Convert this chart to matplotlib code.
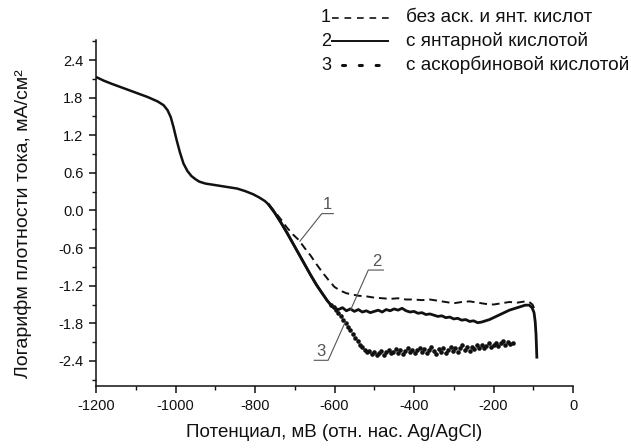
"""Polarisation curves: log current density vs potential (three electrolytes)."""
import matplotlib
matplotlib.use("Agg")
import matplotlib.pyplot as plt
from matplotlib.lines import Line2D
from matplotlib.ticker import MultipleLocator, FormatStrFormatter

plt.rcParams["font.family"] = ["Liberation Sans", "DejaVu Sans"]
plt.rcParams["axes.unicode_minus"] = False

# shared part of all three curves (mV, log mA/cm2)
common_x = [-1200, -1180, -1160, -1130, -1100, -1070, -1045, -1030, -1020, -1012,
            -1005, -997, -989, -980, -970, -960, -950, -940, -925, -905, -885,
            -865, -845, -825, -805, -790, -775, -765]
common_y = [2.13, 2.07, 2.02, 1.95, 1.88, 1.81, 1.74, 1.68, 1.60, 1.49,
            1.33, 1.12, 0.93, 0.75, 0.63, 0.55, 0.50, 0.46, 0.43, 0.41, 0.39,
            0.37, 0.35, 0.31, 0.26, 0.21, 0.15, 0.09]

# 1: without ascorbic / succinic acid (dashed)
tail1_x = [-750, -735, -720, -705, -690, -675, -660, -645, -630, -615, -600, -585,
           -570, -555, -540, -520, -500, -480, -460, -440, -420, -400, -380, -360,
           -340, -320, -300, -280, -260, -240, -220, -200, -180, -160, -140, -120,
           -110, -102, -96]
tail1_y = [-0.02, -0.14, -0.27, -0.38, -0.47, -0.60, -0.72, -0.86, -0.99, -1.11,
           -1.22, -1.28, -1.32, -1.34, -1.36, -1.37, -1.39, -1.40, -1.41, -1.40,
           -1.42, -1.42, -1.43, -1.42, -1.44, -1.46, -1.48, -1.46, -1.45, -1.47,
           -1.49, -1.50, -1.48, -1.46, -1.47, -1.45, -1.46, -1.50, -1.58]

# 2: with succinic acid (solid)
tail2_x = [-750, -735, -720, -705, -690, -675, -660, -645, -630, -618, -608, -600,
           -590, -580, -570, -560, -550, -540, -530, -520, -510, -500, -490, -480,
           -470, -460, -450, -440, -430, -420, -410, -400, -390, -380, -370, -360,
           -350, -340, -330, -320, -310, -300, -290, -280, -270, -260, -250, -240,
           -230, -220, -210, -200, -190, -180, -170, -160, -150, -140, -130, -120,
           -110, -103, -98, -95, -93, -92, -91]
tail2_y = [-0.04, -0.19, -0.35, -0.52, -0.69, -0.86, -1.03, -1.19, -1.33, -1.44,
           -1.52, -1.56, -1.58, -1.55, -1.60, -1.57, -1.61, -1.58, -1.62, -1.60,
           -1.63, -1.61, -1.59, -1.62, -1.58, -1.60, -1.57, -1.59, -1.56, -1.60,
           -1.62, -1.61, -1.64, -1.63, -1.66, -1.65, -1.67, -1.69, -1.68, -1.71,
           -1.70, -1.73, -1.72, -1.75, -1.74, -1.77, -1.76, -1.79, -1.78, -1.76,
           -1.74, -1.71, -1.68, -1.65, -1.62, -1.59, -1.57, -1.55, -1.53, -1.51,
           -1.51, -1.55, -1.63, -1.78, -1.98, -2.15, -2.34]

# 3: with ascorbic acid (dotted, scattered)
tail3_x = [-750, -735, -720, -705, -690, -675, -660, -645, -630, -618, -608,
           -602, -596, -590, -584, -578, -572, -566, -560, -554, -548, -542, -536,
           -530, -524, -518, -512, -506, -500, -494, -488, -482, -476, -470, -464,
           -458, -452, -446, -440, -434, -428, -422, -416, -410, -404, -398, -392,
           -386, -380, -374, -368, -362, -356, -350, -344, -338, -332, -326, -320,
           -314, -308, -302, -296, -290, -284, -278, -272, -266, -260, -254, -248,
           -242, -236, -230, -224, -218, -212, -206, -200, -194, -188, -182, -176,
           -170, -164, -158, -152]
tail3_y = [-0.04, -0.19, -0.35, -0.52, -0.69, -0.86, -1.03, -1.19, -1.33, -1.44,
           -1.51, -1.54, -1.59, -1.63, -1.68, -1.74, -1.79, -1.86, -1.91, -1.97,
           -2.03, -2.08, -2.14, -2.18, -2.22, -2.26, -2.24, -2.29, -2.25, -2.31,
           -2.27, -2.24, -2.30, -2.26, -2.22, -2.28, -2.25, -2.21, -2.27, -2.23,
           -2.29, -2.24, -2.20, -2.26, -2.22, -2.28, -2.23, -2.19, -2.25, -2.21,
           -2.27, -2.22, -2.18, -2.24, -2.29, -2.21, -2.25, -2.19, -2.27, -2.22,
           -2.17, -2.24, -2.20, -2.26, -2.19, -2.15, -2.22, -2.18, -2.24, -2.17,
           -2.21, -2.15, -2.19, -2.14, -2.20, -2.16, -2.12, -2.18, -2.14, -2.11,
           -2.16, -2.12, -2.08, -2.14, -2.10, -2.13, -2.11]

X_TICKS = [-1200, -1000, -800, -600, -400, -200, 0]
Y_TICKS = [-2.4, -1.8, -1.2, -0.6, 0.0, 0.6, 1.2, 1.8, 2.4]

LEGEND = ["без аск. и янт. кислот", "с янтарной кислотой", "с аскорбиновой кислотой"]
XLABEL = "Потенциал, мВ (отн. нас. Ag/AgCl)"
YLABEL = "Логарифм плотности тока, мА/см²"

INK = "#111111"
W, H = 631, 448


def px(x, y):
    """figure pixel (from top-left) -> figure fraction"""
    return x / W, 1 - y / H


def main() -> None:
    fig = plt.figure(figsize=(W / 100, H / 100), dpi=100)
    ax = fig.add_axes([96 / W, 1 - 386 / H, (573 - 96) / W, (386 - 40) / H])

    ax.plot(common_x + tail3_x[:11], common_y + tail3_y[:11], color=INK, lw=1.8)
    ax.plot(tail3_x[10:], tail3_y[10:], ls="none", marker="o", ms=3.3,
            mec=INK, mfc=INK, mew=0)
    ax.plot(common_x[-1:] + tail1_x, common_y[-1:] + tail1_y, color=INK, lw=1.4,
            ls=(0, (4, 2.5)))
    ax.plot(common_x[-1:] + tail2_x, common_y[-1:] + tail2_y, color=INK, lw=2.0)

    ax.set_xlim(-1200, 0)
    ax.set_ylim(-2.8, 2.72)
    ax.set_xticks(X_TICKS)
    ax.set_yticks(Y_TICKS)
    ax.xaxis.set_minor_locator(MultipleLocator(100))
    ax.yaxis.set_minor_locator(MultipleLocator(0.3))
    ax.yaxis.set_major_formatter(FormatStrFormatter("%.1f"))
    for s in ("top", "right"):
        ax.spines[s].set_visible(False)
    for s in ("left", "bottom"):
        ax.spines[s].set_linewidth(1.1)
        ax.spines[s].set_color(INK)
    ax.tick_params(which="major", length=5, width=1.1, labelsize=10.5,
                   colors=INK, pad=4)
    ax.tick_params(which="minor", length=3, width=1.0, colors=INK)
    ax.set_xlabel(XLABEL, fontsize=13.5, color=INK, labelpad=8)
    ax.set_ylabel(YLABEL, fontsize=14, color=INK)
    ax.yaxis.set_label_coords(-0.134, 0.47)

    # curve labels with leader lines
    gray = "#555555"
    ax.plot([-687, -632, -603], [-0.49, -0.05, -0.05], color=gray, lw=0.8)
    ax.text(-619, -0.03, "1", fontsize=12, color=gray, ha="center", va="bottom")
    ax.plot([-559, -515, -477], [-1.58, -0.95, -0.95], color=gray, lw=0.8)
    ax.text(-494, -0.93, "2", fontsize=12, color=gray, ha="center", va="bottom")
    ax.plot([-573, -616, -651], [-1.78, -2.39, -2.39], color=gray, lw=0.8)
    ax.text(-634, -2.37, "3", fontsize=12, color=gray, ha="center", va="bottom")

    # hand-drawn legend at the top right
    rows = [18, 41, 65]
    for i, y in enumerate(rows):
        fig.text(*px(326, y), str(i + 1), fontsize=13, color=INK,
                 ha="center", va="center")
        fig.text(*px(406, y), LEGEND[i], fontsize=13.7, color=INK,
                 ha="left", va="center")
    x0, y0 = px(332, rows[0]); x1, _ = px(390, rows[0])
    fig.add_artist(Line2D([x0, x1], [y0, y0], color=INK, lw=1.2,
                          ls=(0, (4, 3.5))))
    x0, y0 = px(332, rows[1]); x1, _ = px(388, rows[1])
    fig.add_artist(Line2D([x0, x1], [y0, y0], color=INK, lw=1.4))
    x0, y0 = px(342, rows[2]); x1, _ = px(388, rows[2])
    fig.add_artist(Line2D([x0, x1], [y0, y0], color=INK, lw=2.2,
                          ls=(0, (1, 4.5)), dash_capstyle="round"))

    fig.savefig("out.png", dpi=100)


if __name__ == "__main__":
    main()
